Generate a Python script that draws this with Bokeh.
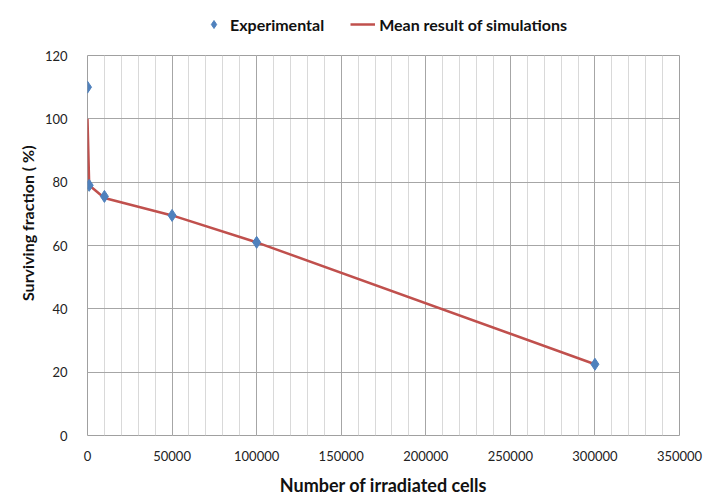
from bokeh.plotting import figure
from bokeh.layouts import column
from bokeh.models import (Range1d, SingleIntervalTicker, BasicTickFormatter, Legend,
                          LegendItem, Title)
from bokeh.embed import file_html
from bokeh.resources import INLINE

# Data
exp_cells = [0, 1000, 10000, 50000, 100000, 300000]
exp_surv = [110, 79, 75.5, 69.5, 61, 22.5]
sim_cells = [0, 1000, 10000, 50000, 100000, 300000]
sim_surv = [100, 79, 75, 69.5, 61, 22.5]

FONT = "Lato"
RED = "#C0504D"
BLUE = "#4F81BD"

# ---- main plot
p = figure(output_backend="svg", toolbar_location=None,
           x_range=Range1d(0, 350000), y_range=Range1d(0, 120),
           min_border_left=87, min_border_right=25, min_border_top=15, min_border_bottom=64,
           frame_width=592, frame_height=380)

p.xaxis.ticker = SingleIntervalTicker(interval=50000, num_minor_ticks=5)
p.yaxis.ticker = SingleIntervalTicker(interval=20, num_minor_ticks=0)
p.xaxis.formatter = BasicTickFormatter(use_scientific=False)

for ax in (p.xaxis, p.yaxis):
    ax.axis_line_color = None
    ax.major_tick_line_color = None
    ax.minor_tick_line_color = None
    ax.major_label_text_font = FONT
    ax.major_label_text_font_size = "13px"
    ax.major_label_text_color = "#222222"
    ax.axis_label_text_font = FONT
    ax.axis_label_text_font_size = "18px"
    ax.axis_label_text_font_style = "bold"
    ax.axis_label_text_color = "#111111"

p.xaxis.axis_label = "Number of irradiated cells"
p.xaxis.major_label_standoff = 9
p.yaxis.major_label_standoff = 14
p.xaxis.axis_label_standoff = 10

ytitle = Title(text="Surviving fraction  ( %)", align="right", offset=86,
               text_font=FONT, text_font_size="16px", text_font_style="bold",
               text_color="#111111", standoff=10)
p.add_layout(ytitle, "left")

p.xgrid.grid_line_color = "#a6a6a6"
p.xgrid.minor_grid_line_color = "#d9d9d9"
p.ygrid.grid_line_color = "#a6a6a6"
p.outline_line_color = "#a0a0a0"
p.background_fill_color = "white"
p.border_fill_color = "white"

line = p.line(sim_cells, sim_surv, line_color=RED, line_width=2.5)
pts = p.scatter(exp_cells, exp_surv, marker="diamond", size=12,
                fill_color=BLUE, line_color=BLUE)

# ---- legend strip above the plot (its renderers fall outside its own 0..1 ranges)
lg = figure(output_backend="svg", toolbar_location=None, width=704, height=40,
            x_axis_location=None, y_axis_location=None, min_border=0,
            x_range=Range1d(0, 1), y_range=Range1d(0, 1))
lg.outline_line_color = None
lg.xgrid.visible = False
lg.ygrid.visible = False
l_line = lg.line(sim_cells, sim_surv, line_color=RED, line_width=2.5)
l_pts = lg.scatter(exp_cells, exp_surv, marker="diamond", size=12,
                   fill_color=BLUE, line_color=BLUE)
legend = Legend(items=[LegendItem(label="Experimental", renderers=[l_pts]),
                       LegendItem(label="Mean result of simulations", renderers=[l_line])],
                orientation="horizontal", location=(114, 6),
                label_text_font=FONT, label_text_font_size="16px",
                label_text_font_style="bold", label_text_color="#111111",
                border_line_color=None, background_fill_alpha=0,
                spacing=26, glyph_width=25, label_standoff=4, margin=0, padding=4)
lg.add_layout(legend, "center")

layout = column(lg, p, spacing=0)
open("out.html", "w").write(file_html(layout, INLINE))
